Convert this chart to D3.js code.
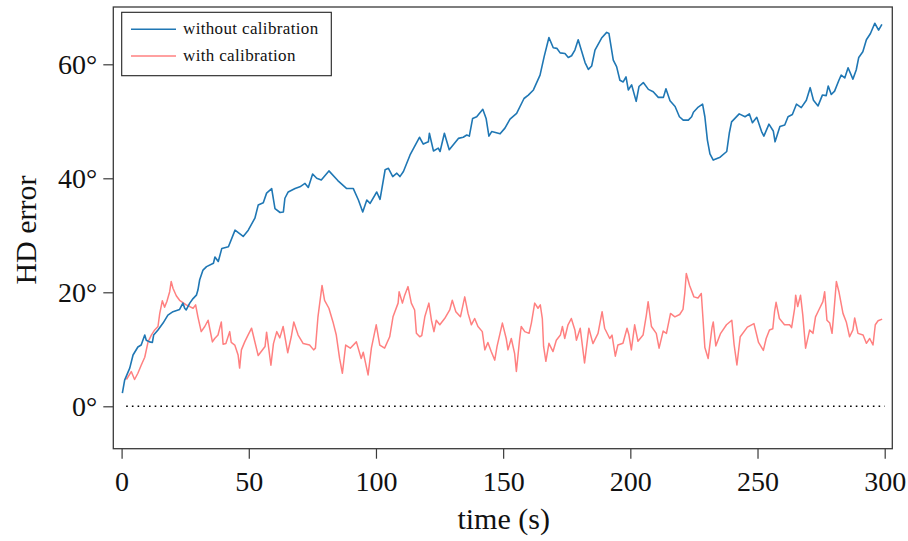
<!DOCTYPE html>
<html>
<head>
<meta charset="utf-8">
<script src="https://cdn.jsdelivr.net/npm/d3@7/dist/d3.min.js"></script>
<style>
  html, body { margin: 0; padding: 0; background: #fff; }
  svg { display: block; font-family: "Liberation Serif", "Times New Roman", serif; }
</style>
</head>
<body>
<svg id="chart" width="908" height="541"></svg>
<script>
// Heading-direction error over time, with and without calibration
const seriesNames = ["without calibration", "with calibration"];
const seriesColors = ["#1f77b4", "#ff8080"];

const xTicks = [0, 50, 100, 150, 200, 250, 300];
const yTicks = [0, 20, 40, 60];

const uncalTime = [0.3,1.2,3.2,4.5,6.4,7.7,9.1,9.7,11.0,12.1,12.6,14.3,16.3,18.2,20.2,22.8,24.1,24.8,25.4,26.8,28.1,29.4,30.0,30.7,32.0,33.4,36.1,36.7,38.0,39.4,42.0,44.6,47.8,49.8,52.4,53.7,55.7,57.0,59.0,60.3,62.3,63.6,64.2,65.5,68.2,70.1,72.1,73.4,75.1,76.7,78.5,81.5,85.0,88.5,91.1,93.1,94.8,96.4,97.7,100.3,101.6,103.6,104.9,106.6,108.2,109.4,110.8,113.4,117.1,118.6,120.6,121.0,122.6,124.5,125.2,126.9,128.8,132.4,134.3,135.7,136.7,138.0,139.6,142.0,143.3,144.4,145.5,148.8,150.7,152.7,155.3,158.2,159.9,161.9,164.5,166.1,168.0,169.7,171.1,172.4,174.3,175.6,176.9,178.2,179.5,182.2,183.5,184.8,186.1,188.7,190.7,191.6,193.3,194.6,195.9,197.2,198.3,199.2,200.5,202.3,203.4,205.1,207.1,209.0,211.0,213.0,214.0,215.6,217.6,219.3,220.8,222.8,224.1,224.8,226.7,228.4,229.3,230.3,231.3,232.6,235.3,237.9,238.9,239.8,242.8,245.1,246.8,248.0,249.7,251.6,252.5,254.5,256.2,256.9,258.8,260.7,262.0,263.7,265.3,267.2,269.2,270.7,272.0,273.8,275.5,277.0,277.8,279.0,280.3,282.0,282.9,284.3,285.6,287.5,288.8,289.8,291.4,292.8,294.4,296.1,297.6,298.9];
const uncalError = [2.3,4.6,6.7,9.0,10.4,10.75,12.5,11.6,11.3,11.2,12.5,13.4,14.6,16.0,16.6,17.0,18.1,17.2,16.9,18.1,18.9,19.5,20.4,22.2,23.9,24.5,25.1,26.2,25.4,27.7,28.0,30.9,29.8,30.9,33.0,35.3,35.7,37.4,38.2,34.7,34.0,34.1,36.5,37.6,38.2,38.5,39.1,38.4,40.75,40.0,39.7,41.3,39.6,38.2,38.2,36.2,34.1,36.2,35.6,37.6,36.3,41.5,41.75,40.3,40.9,40.3,41.2,44.1,47.2,46.0,46.4,47.9,44.8,45.3,44.7,47.9,45.0,47.0,47.2,47.6,47.4,50.5,50.8,52.1,50.5,47.4,48.2,47.8,48.8,50.4,51.4,54.0,54.6,55.5,58.1,61.3,64.7,62.9,62.8,62.0,61.9,61.2,61.5,62.5,64.3,60.3,59.1,59.7,62.5,64.6,65.6,65.4,60.75,59.6,57.2,56.9,57.8,55.5,56.4,53.5,56.1,56.8,55.6,55.2,54.2,54.2,55.7,53.6,52.6,50.8,50.2,50.2,50.8,51.6,52.5,53.0,50.8,46.7,44.3,43.2,43.7,44.7,47.9,49.9,51.3,50.8,51.3,49.75,50.7,48.2,47.4,49.5,48.3,46.4,49.1,49.35,50.8,51.2,53.0,52.4,53.7,55.9,53.7,52.7,54.6,54.5,56.2,54.7,55.3,57.2,58.1,57.6,59.4,57.4,59.0,61.2,62.2,64.3,65.4,67.2,66.0,67.0];

const calTime = [1.9,3.8,5.1,6.4,7.7,9.1,10.4,11.7,13.0,14.3,15.0,16.0,16.9,17.8,18.9,19.5,20.2,21.5,22.8,24.1,25.4,26.8,28.1,29.1,30.0,31.3,32.7,34.0,35.7,36.6,37.9,39.2,39.9,41.0,42.5,43.1,44.5,45.8,46.4,47.1,48.4,49.7,51.1,53.7,56.4,57.0,57.6,58.7,59.7,61.0,62.2,63.5,65.3,66.7,67.7,69.4,71.4,73.9,75.5,76.2,77.2,78.8,79.8,81.5,83.1,84.4,85.7,86.8,88.1,89.9,92.3,94.2,95.0,96.9,98.2,100.1,101.5,103.4,105.4,106.7,108.7,109.1,110.4,111.3,112.6,113.9,115.2,115.9,117.2,118.0,119.2,120.8,121.8,122.8,123.7,125.1,127.0,129.0,130.0,131.4,133.2,134.9,136.2,137.5,138.8,140.1,141.8,142.8,144.0,145.3,146.7,147.6,149.7,151.2,151.9,153.2,154.5,155.2,156.5,157.1,158.5,160.2,161.1,162.4,163.7,164.6,165.4,165.9,166.8,168.0,169.6,170.9,172.5,173.3,174.2,175.5,176.8,178.2,178.8,180.3,182.0,183.7,185.3,187.3,188.9,189.9,191.9,192.8,194.1,195.1,197.1,198.7,199.4,200.4,201.7,203.0,205.0,206.3,207.0,208.3,210.2,211.3,212.9,214.2,215.8,217.5,219.4,220.7,221.4,222.0,223.3,225.0,226.6,227.9,228.6,229.3,230.6,232.1,232.6,233.6,235.5,237.8,239.9,240.8,241.9,243.2,246.0,248.6,250.4,252.3,253.4,254.7,256.0,256.7,257.3,258.6,260.6,262.6,263.4,264.6,265.0,265.8,266.9,267.8,268.9,270.5,271.8,272.8,274.1,275.7,276.4,277.3,278.4,279.3,280.1,281.0,282.0,283.6,284.9,286.2,287.5,288.2,289.5,291.5,292.8,294.1,295.4,296.3,297.4,299.0];
const calError = [4.7,6.1,4.7,5.8,7.2,8.6,11.3,12.5,13.4,14.0,16.3,18.5,17.4,18.4,20.1,21.9,20.7,19.4,18.6,18.2,17.8,17.5,17.2,17.8,15.7,13.1,14.0,15.1,11.3,11.9,12.5,14.8,10.9,11.0,13.1,11.2,10.75,9.0,6.7,9.9,11.3,12.5,13.7,8.9,10.5,13.0,11.0,7.2,11.0,13.1,12.0,14.0,9.4,12.2,14.8,12.5,11.0,10.75,9.9,10.2,15.7,21.2,18.6,17.2,14.8,12.5,8.4,5.8,10.75,10.2,11.3,8.4,9.5,5.5,10.2,14.3,10.75,10.2,12.2,15.7,18.1,20.1,18.1,19.5,21.0,18.1,16.9,12.8,12.2,12.4,15.7,18.1,15.1,13.1,15.1,14.3,15.4,16.9,18.6,16.6,15.7,19.2,16.3,14.3,15.4,14.0,13.1,9.9,11.2,9.6,8.1,10.5,14.6,11.9,9.9,11.9,9.3,6.1,11.9,14.0,13.1,12.8,14.6,18.1,17.2,17.8,15.4,10.5,7.9,11.05,9.6,11.6,12.5,14.0,11.9,14.3,15.4,13.4,11.6,13.7,7.6,13.7,11.0,12.8,16.6,13.7,11.9,12.5,8.8,10.75,11.05,13.7,12.6,9.9,14.3,11.4,12.5,16.0,18.35,14.0,12.8,10.2,13.2,12.8,16.3,15.7,16.1,17.0,19.8,23.3,21.2,19.2,19.0,19.8,15.1,10.3,8.4,13.8,14.8,10.6,12.8,14.3,15.1,10.8,7.25,12.2,13.9,14.5,11.2,9.8,11.9,13.4,13.6,16.6,18.25,15.4,14.3,14.3,13.8,17.2,19.5,17.5,19.5,16.0,10.2,13.4,12.8,15.7,16.9,18.35,20.1,15.1,14.6,12.8,16.9,21.9,20.1,16.3,14.8,12.2,13.4,15.5,12.8,12.5,11.05,11.9,10.75,14.3,15.0,15.3];

const xLabel = "time (s)";
const yLabel = "HD error";

const svg = d3.select("#chart");

// plot frame
const frame = { left: 113.3, right: 892.3, top: 7, bottom: 448.7 };

const x = d3.scaleLinear().domain([0, 300]).range([121.6, 884.7]);
const y = d3.scaleLinear().domain([0, 60]).range([406.3, 64.3]);

// frame box
svg.append("rect")
  .attr("x", frame.left).attr("y", frame.top)
  .attr("width", frame.right - frame.left)
  .attr("height", frame.bottom - frame.top)
  .attr("fill", "none").attr("stroke", "#3a3a3a").attr("stroke-width", 1.3);

// x axis
const xAxis = d3.axisBottom(x).tickValues(xTicks).tickSize(10).tickPadding(12)
  .tickFormat(d3.format("d"));
const gx = svg.append("g").attr("transform", `translate(0,${frame.bottom})`).call(xAxis);
gx.select(".domain").remove();
gx.selectAll(".tick line").attr("stroke", "#3a3a3a").attr("stroke-width", 1.2);
gx.selectAll(".tick text").attr("font-size", 28).attr("fill", "#111")
  .attr("font-family", "'Liberation Serif', serif");

// y axis
const yAxis = d3.axisLeft(y).tickValues(yTicks).tickSize(10).tickPadding(6)
  .tickFormat(d => d + "°");
const gy = svg.append("g").attr("transform", `translate(${frame.left},0)`).call(yAxis);
gy.select(".domain").remove();
gy.selectAll(".tick line").attr("stroke", "#3a3a3a").attr("stroke-width", 1.2);
gy.selectAll(".tick text").attr("font-size", 28).attr("fill", "#111")
  .attr("font-family", "'Liberation Serif', serif");

// zero reference line
svg.append("line")
  .attr("x1", x(1.8)).attr("x2", x(300))
  .attr("y1", y(0)).attr("y2", y(0))
  .attr("stroke", "#000").attr("stroke-width", 1.6)
  .attr("stroke-dasharray", "1.6,4.1");

// series lines
const line = d3.line().x(d => x(d[0])).y(d => y(d[1]));
const uncal = uncalTime.map((t, i) => [t, uncalError[i]]);
const cal = calTime.map((t, i) => [t, calError[i]]);

svg.append("path").datum(cal)
  .attr("d", line).attr("fill", "none")
  .attr("stroke", seriesColors[1]).attr("stroke-width", 1.5)
  .attr("stroke-linejoin", "round");

svg.append("path").datum(uncal)
  .attr("d", line).attr("fill", "none")
  .attr("stroke", seriesColors[0]).attr("stroke-width", 1.6)
  .attr("stroke-linejoin", "round");

// axis titles
svg.append("text")
  .attr("x", (x(0) + x(300)) / 2 + 0.5).attr("y", 529)
  .attr("text-anchor", "middle").attr("font-size", 30).attr("fill", "#111")
  .text(xLabel);

svg.append("text")
  .attr("transform", `translate(36,230) rotate(-90)`)
  .attr("text-anchor", "middle").attr("font-size", 30).attr("fill", "#111")
  .text(yLabel);

// legend
const legend = svg.append("g");
legend.append("rect")
  .attr("x", 121.7).attr("y", 12.3).attr("width", 209.6).attr("height", 63.4)
  .attr("fill", "#fff").attr("stroke", "#222").attr("stroke-width", 1.1);
seriesNames.forEach((name, i) => {
  const ly = 29.3 + i * 26.7;
  legend.append("line")
    .attr("x1", 131).attr("x2", 176).attr("y1", ly).attr("y2", ly)
    .attr("stroke", seriesColors[i]).attr("stroke-width", 1.6);
  legend.append("text")
    .attr("x", 183).attr("y", ly + 5)
    .attr("font-size", 17).attr("letter-spacing", 0.35).attr("fill", "#111")
    .text(name);
});
</script>
</body>
</html>
